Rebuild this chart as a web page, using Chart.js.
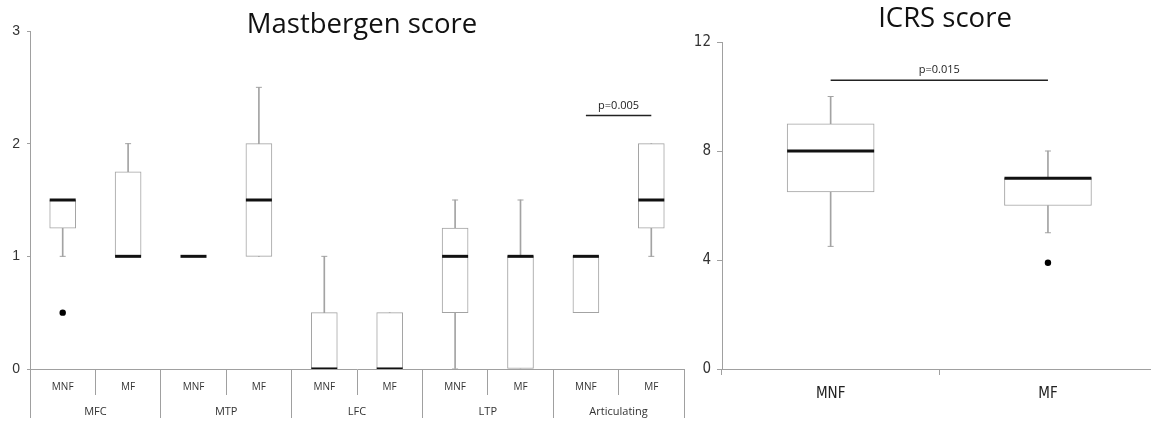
<!DOCTYPE html>
<html>
<head>
<meta charset="utf-8">
<script src="https://cdn.jsdelivr.net/npm/chart.js@4.4.1/dist/chart.umd.min.js"></script>
<style>
  html, body { margin: 0; padding: 0; background: #fff; overflow: hidden; width: 1151px; height: 423px; }
  .panel { position: absolute; top: 0; }
  .title { position: absolute; font-family: 'Open Sans', sans-serif; color: #111; white-space: nowrap; line-height: 1; transform: translateX(-50%); }
</style>
</head>
<body>
<div class="panel" style="left:0"><canvas id="mastbergen" width="692" height="423"></canvas></div>
<div class="panel" style="left:690px"><canvas id="icrs" width="470" height="423"></canvas></div>
<div class="title" style="left:362px; top:9px; font-size:27.5px">Mastbergen score</div>
<div class="title" style="left:945px; top:3px; font-size:27.5px">ICRS score</div>
<script>
// Mastbergen score (left panel)
const mbGroups = ['MFC', 'MTP', 'LFC', 'LTP', 'Articulating'];
const mbLabels = ['MNF', 'MF', 'MNF', 'MF', 'MNF', 'MF', 'MNF', 'MF', 'MNF', 'MF'];
const mbMin    = [1,    1,    1, 1,   0,   0,   0,    0,   0.5, 1];
const mbQ1     = [1.25, 1,    1, 1,   0,   0,   0.5,  0,   0.5, 1.25];
const mbMedian = [1.5,  1,    1, 1.5, 0,   0,   1,    1,   1,   1.5];
const mbQ3     = [1.5,  1.75, 1, 2,   0.5, 0.5, 1.25, 1,   1,   2];
const mbMax    = [1.5,  2,    1, 2.5, 1,   0.5, 1.5,  1.5, 1,   2];
const mbOutliers = [0.5, null, null, null, null, null, null, null, null, null];
const mbTicks = [0, 1, 2, 3];
const mbPPair = [8, 9];
const mbPLevel = 2.25;
const mbPText = 'p=0.005';

// ICRS score (right panel)
const icrsLabels = ['MNF', 'MF'];
const icrsMin    = [4.5, 5];
const icrsQ1     = [6.5, 6];
const icrsMedian = [8,   7];
const icrsQ3     = [9,   7];
const icrsMax    = [10,  8];
const icrsOutliers = [null, 3.9];
const icrsTicks = [0, 4, 8, 12];
const icrsPPair = [0, 1];
const icrsPLevel = 10.6;
const icrsPText = 'p=0.015';

const GREY = '#a3a3a3';
const AXIS = '#a0a0a0';
const NARROW = "'Liberation Sans Narrow', 'DejaVu Sans Condensed', 'Liberation Sans', sans-serif";

// builds the box plot out of floating bars (boxes, whiskers) and point-only lines (medians, caps, outliers)
function boxDatasets(labels, min, q1, median, q3, max, outliers, pPair, pLevel, boxWidth) {
    const lowCaps = min.map((v, i) => v < q1[i] ? v : null);
    const highCaps = max.map((v, i) => v > q3[i] ? v : null);
    const pLine = labels.map((_, i) => pPair.includes(i) ? pLevel : null);
    const pointOnly = { type: 'line', showLine: false, xAxisID: 'x', yAxisID: 'y' };
    return [
        { ...pointOnly, data: median, pointStyle: 'line', pointRadius: boxWidth / 2, pointBorderWidth: 3, pointBorderColor: '#111', order: 0 },
        { ...pointOnly, data: lowCaps, pointStyle: 'line', pointRadius: 3, pointBorderWidth: 1, pointBorderColor: GREY, order: 1 },
        { ...pointOnly, data: highCaps, pointStyle: 'line', pointRadius: 3, pointBorderWidth: 1, pointBorderColor: GREY, order: 1 },
        { ...pointOnly, data: outliers, pointStyle: 'circle', pointRadius: 3.2, pointBorderWidth: 0, pointBackgroundColor: '#000', order: 1 },
        { type: 'line', data: pLine, xAxisID: 'x', yAxisID: 'y', borderColor: '#222', borderWidth: 1.5, pointRadius: 0, order: 1 },
        { type: 'bar', data: q1.map((v, i) => [v, q3[i]]), xAxisID: 'x', yAxisID: 'y', backgroundColor: '#fff', borderColor: GREY, borderWidth: 1, borderSkipped: false, barThickness: boxWidth, grouped: false, order: 2 },
        { type: 'bar', data: min.map((v, i) => [v, q1[i]]), xAxisID: 'x', yAxisID: 'y', backgroundColor: GREY, borderWidth: 0, barThickness: 1, grouped: false, order: 3 },
        { type: 'bar', data: q3.map((v, i) => [v, max[i]]), xAxisID: 'x', yAxisID: 'y', backgroundColor: GREY, borderWidth: 0, barThickness: 1, grouped: false, order: 3 }
    ];
}

// writes the p-value above its bracket line
const pValuePlugin = {
    id: 'pValue',
    afterDatasetsDraw(chart, args, opts) {
        const { ctx, scales: { x, y } } = chart;
        const xa = x.getPixelForValue(opts.pair[0]);
        const xb = x.getPixelForValue(opts.pair[1]);
        const yp = y.getPixelForValue(opts.level);
        ctx.save();
        ctx.font = "11px 'Open Sans', sans-serif";
        ctx.fillStyle = '#222';
        ctx.textAlign = 'center';
        ctx.textBaseline = 'middle';
        ctx.fillText(opts.text, (xa + xb) / 2, yp - 10);
        ctx.restore();
    }
};

// fixed axis sizes, no label overhang padding
const fixHeight = h => s => { s.height = h; s.paddingLeft = 0; s.paddingRight = 0; };
const fixWidth = w => s => { s.width = w; s.paddingTop = 0; s.paddingBottom = 0; };

const baseOptions = {
    responsive: false,
    animation: false,
    events: [],
    plugins: { legend: { display: false }, tooltip: { enabled: false }, title: { display: false } }
};

new Chart(document.getElementById('mastbergen'), {
    data: {
        labels: mbLabels,
        datasets: boxDatasets(mbLabels, mbMin, mbQ1, mbMedian, mbQ3, mbMax, mbOutliers, mbPPair, mbPLevel, 26)
    },
    options: {
        ...baseOptions,
        layout: { autoPadding: false, padding: { top: 31, right: 8, bottom: 0, left: 0 } },
        plugins: { ...baseOptions.plugins, pValue: { pair: mbPPair, level: mbPLevel, text: mbPText } },
        scales: {
            x: {
                type: 'category', labels: mbLabels, offset: true, position: 'bottom',
                grid: { offset: true, drawOnChartArea: false, tickLength: 26, color: AXIS },
                border: { color: AXIS },
                ticks: { font: { family: "'Open Sans', sans-serif", size: 10 }, color: '#333', padding: -13.5, autoSkip: false, maxRotation: 0 },
                afterFit: fixHeight(26)
            },
            x2: {
                type: 'category', labels: mbGroups, offset: true, position: 'bottom',
                grid: { offset: true, drawOnChartArea: false, tickLength: 23, color: AXIS },
                border: { display: false },
                ticks: { font: { family: "'Open Sans', sans-serif", size: 11 }, color: '#333', padding: -13, autoSkip: false, maxRotation: 0 },
                afterFit: fixHeight(28)
            },
            y: {
                min: mbTicks[0], max: mbTicks[mbTicks.length - 1],
                afterBuildTicks: s => { s.ticks = mbTicks.map(v => ({ value: v })); },
                grid: { drawOnChartArea: false, tickLength: 3, color: AXIS },
                border: { color: AXIS },
                ticks: { font: { family: "'Liberation Sans', Arial, sans-serif", size: 14 }, color: '#333', padding: 7 },
                afterFit: fixWidth(30)
            }
        }
    },
    plugins: [pValuePlugin]
});

new Chart(document.getElementById('icrs'), {
    data: {
        labels: icrsLabels,
        datasets: boxDatasets(icrsLabels, icrsMin, icrsQ1, icrsMedian, icrsQ3, icrsMax, icrsOutliers, icrsPPair, icrsPLevel, 87)
    },
    options: {
        ...baseOptions,
        layout: { autoPadding: false, padding: { top: 42, right: 3.4, bottom: 0, left: 0 } },
        plugins: { ...baseOptions.plugins, pValue: { pair: icrsPPair, level: icrsPLevel, text: icrsPText } },
        scales: {
            x: {
                type: 'category', labels: icrsLabels, offset: true, position: 'bottom',
                grid: { offset: true, drawOnChartArea: false, tickLength: 6, color: AXIS },
                border: { color: AXIS },
                ticks: { font: { family: NARROW, size: 15 }, color: '#222', padding: 10, maxRotation: 0 },
                afterFit: fixHeight(54)
            },
            y: {
                min: icrsTicks[0], max: icrsTicks[icrsTicks.length - 1],
                afterBuildTicks: s => { s.ticks = icrsTicks.map(v => ({ value: v })); },
                grid: { drawOnChartArea: false, tickLength: 5, color: AXIS },
                border: { color: AXIS },
                ticks: { font: { family: NARROW, size: 15 }, color: '#333', padding: 6 },
                afterFit: fixWidth(32)
            }
        }
    },
    plugins: [pValuePlugin]
});
</script>
</body>
</html>
